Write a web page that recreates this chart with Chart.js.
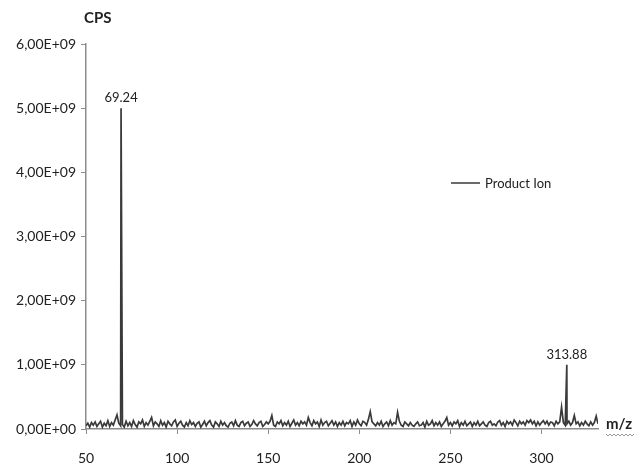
<!DOCTYPE html>
<html>
<head>
<meta charset="utf-8">
<script src="https://cdn.jsdelivr.net/npm/chart.js@4/dist/chart.umd.min.js"></script>
<style>
  html, body { margin: 0; padding: 0; background: #fff; }
  #wrap { width: 643px; height: 468px; }
</style>
</head>
<body>
<div id="wrap"><canvas id="ms"></canvas></div>
<script>
// Product ion spectrum, intensities in units of 1E+08 CPS

// noise trace sampled every 1 m/z starting at m/z 50
const NOISE_START = 50;
const NOISE_STEP = 1;
const noise = [
  0.5,0.9,0.3,1.0,0.6,1.1,0.4,0.8,1.2,0.3,0.9,0.5,1.3,0.4,1.0,0.6,1.4,2.2,0.9,0.5,
  0.7,0.3,1.2,0.5,1.0,0.4,1.3,0.7,0.3,1.1,0.8,1.4,0.4,1.0,0.6,1.2,1.8,0.5,1.1,0.8,
  0.4,1.3,0.6,1.0,0.3,1.2,0.8,0.5,1.1,1.4,0.4,0.9,1.2,0.6,0.3,1.0,0.5,1.3,0.7,1.0,
  0.4,0.9,1.1,0.3,0.7,1.2,0.5,1.0,1.3,0.6,0.3,1.1,0.8,0.4,1.2,0.6,1.0,0.5,0.3,0.9,
  1.1,0.5,1.3,0.6,0.4,1.0,1.2,0.5,0.9,1.1,0.4,0.7,1.3,0.8,0.5,1.0,1.2,0.4,0.7,1.1,
  0.8,1.2,2.1,0.6,0.4,1.1,0.8,1.3,0.5,1.0,0.6,1.2,0.4,0.9,1.4,0.6,1.0,0.5,1.2,0.8,
  1.1,0.6,1.8,1.0,0.5,1.3,0.8,1.1,0.4,1.4,0.6,1.0,1.2,0.5,0.9,1.3,0.6,1.1,0.4,1.0,
  0.6,1.2,0.5,1.0,0.8,1.3,0.4,1.1,0.6,1.4,0.8,0.5,1.2,1.0,0.6,1.5,2.7,1.1,0.8,0.5,
  1.0,0.6,1.2,0.4,0.8,1.1,0.5,1.3,0.6,1.0,0.8,2.6,1.2,0.6,0.4,1.1,0.8,0.5,1.0,0.6,
  0.4,0.8,1.1,0.5,0.6,1.0,0.3,1.2,0.6,0.8,1.3,0.5,1.0,0.6,1.1,0.4,0.8,1.2,1.8,0.6,
  1.0,0.5,1.1,0.8,1.3,0.4,1.0,0.6,1.2,0.5,0.8,1.1,0.4,1.0,0.6,1.2,0.5,0.8,1.1,0.6,
  0.4,1.0,1.2,0.6,0.8,0.5,1.1,1.3,0.6,1.0,0.4,1.2,0.8,1.1,0.6,1.4,1.0,0.5,1.2,0.8,
  1.1,0.6,1.3,1.0,1.4,0.8,1.2,0.5,1.1,0.6,1.0,1.3,0.8,1.2,0.6,1.1,1.0,0.5,1.2,0.8,
  1.1,3.4,1.0,0.6,0.8,1.2,0.6,1.0,2.1,0.8,1.1,0.5,1.0,0.6,1.2,0.8,0.5,1.1,0.6,1.0,
  2.0,0.8,0.5,1.0
];

// labelled peaks
const peakMz = [69.24, 313.88];
const peakCps = [50, 10];
const peakLabels = ['69.24', '313.88'];

const xTicks = [50, 100, 150, 200, 250, 300];
const yTicks = [0, 10, 20, 30, 40, 50, 60];

const seriesLabel = 'Product Ion';
const LINE = '#3a3a3a';
const AXIS = '#8c8c8c';
const FONT = 'Lato, "Open Sans", sans-serif';

// merge noise + peaks into one sorted trace
const points = noise.map((v, i) => ({ x: NOISE_START + i * NOISE_STEP, y: v }));
peakMz.forEach((m, i) => points.push({ x: m, y: peakCps[i] }));
points.sort((a, b) => a.x - b.x);

function yLabel(v) {
  if (v === 0) return '0,00E+00';
  return (v / 10).toFixed(2).replace('.', ',') + 'E+09';
}

const decor = {
  id: 'decor',
  afterDraw(chart) {
    const { ctx, scales: { x, y }, chartArea } = chart;
    ctx.save();
    ctx.fillStyle = '#222';

    // peak labels
    ctx.font = '13px ' + FONT;
    ctx.textAlign = 'center';
    ctx.textBaseline = 'bottom';
    peakMz.forEach((m, i) => {
      ctx.fillText(peakLabels[i], x.getPixelForValue(m), y.getPixelForValue(peakCps[i]) - 4);
    });

    // axis titles
    ctx.font = 'bold 15px ' + FONT;
    ctx.textAlign = 'left';
    ctx.textBaseline = 'middle';
    ctx.fillText('CPS', chartArea.left - 2, 18);
    const zx = chartArea.right + 8, zy = y.getPixelForValue(0) - 5;
    ctx.fillText('m/z', zx, zy);
    const w = ctx.measureText('m/z').width;
    ctx.strokeStyle = '#999';
    ctx.lineWidth = 1;
    ctx.beginPath();
    for (let px = 0; px <= w + 2; px += 2) {
      const py = zy + 10 + (px % 4 === 0 ? 0 : 2);
      if (px === 0) ctx.moveTo(zx + px, py); else ctx.lineTo(zx + px, py);
    }
    ctx.stroke();

    // legend
    ctx.strokeStyle = LINE;
    ctx.lineWidth = 1.5;
    ctx.beginPath();
    ctx.moveTo(451, 183);
    ctx.lineTo(480, 183);
    ctx.stroke();
    ctx.font = '13px ' + FONT;
    ctx.fillText(seriesLabel, 485, 184);
    ctx.restore();
  }
};

new Chart(document.getElementById('ms'), {
  type: 'line',
  data: {
    datasets: [{
      label: seriesLabel,
      data: points,
      borderColor: LINE,
      borderWidth: 1.7,
      pointRadius: 0,
      tension: 0,
      fill: false,
    }]
  },
  options: {
    responsive: true,
    maintainAspectRatio: false,
    animation: false,
    layout: { padding: { top: 44, right: 45, left: 0, bottom: 0 } },
    plugins: { legend: { display: false }, tooltip: { enabled: false } },
    scales: {
      x: {
        type: 'linear',
        min: 50,
        max: 331,
        afterBuildTicks: s => { s.ticks = xTicks.map(v => ({ value: v })); },
        afterFit: s => { s.height = 39; },
        border: { color: AXIS, width: 1.5 },
        grid: { drawOnChartArea: false, drawTicks: true, tickLength: 5, color: AXIS },
        ticks: { color: '#222', font: { family: FONT, size: 14 }, padding: 16, maxRotation: 0 }
      },
      y: {
        min: 0,
        max: 60,
        afterBuildTicks: s => { s.ticks = yTicks.map(v => ({ value: v })); },
        afterFit: s => { s.width = 86; },
        border: { color: AXIS, width: 1.5 },
        grid: { drawOnChartArea: false, drawTicks: true, tickLength: 5, color: AXIS },
        ticks: { color: '#222', font: { family: FONT, size: 14 }, padding: 5, callback: v => yLabel(v) }
      }
    }
  },
  plugins: [decor]
});
</script>
</body>
</html>
